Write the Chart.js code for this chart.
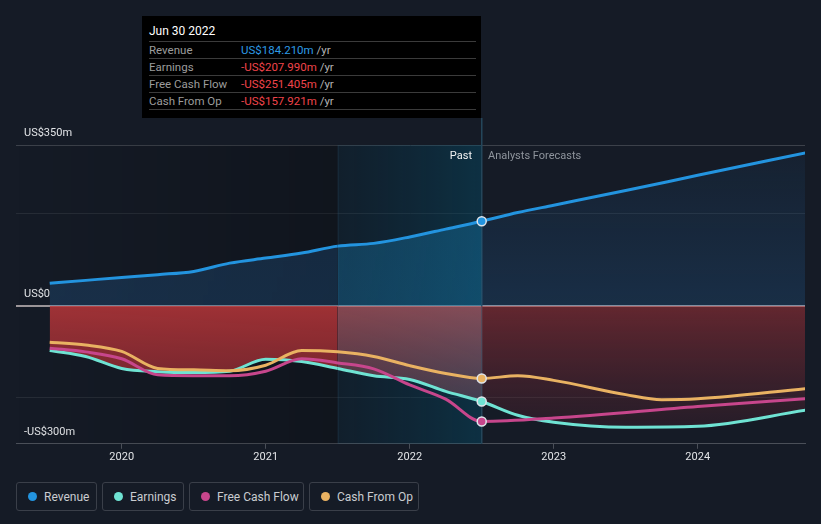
<!DOCTYPE html>
<html>
<head>
<meta charset="utf-8">
<script src="https://cdn.jsdelivr.net/npm/chart.js@4"></script>
<style>
  html, body { margin: 0; padding: 0; background: #151b26; }
  body { width: 821px; height: 524px; position: relative; overflow: hidden; font-family: Roboto, "Noto Sans", sans-serif; }
  #wrap { position: absolute; left: 0; top: 0; width: 821px; height: 470px; }
  #tip { position: absolute; left: 142px; top: 16px; width: 339px; height: 102px; background: #000; box-sizing: border-box; padding: 6px 5px 0 7px; }
  #tip .title { color: #fff; font-size: 12px; height: 19px; line-height: 19px; }
  #tip .row { border-top: 1px solid #3b3b3b; height: 16px; line-height: 16px; font-size: 11.5px; display: flex; }
  #tip .row.last { border-bottom: 1px solid #3b3b3b; }
  #tip .lab { color: #9c9c9c; width: 92px; }
  #tip .yr { color: #b4b4b4; }
  .mark { position: absolute; font-size: 11px; top: 149px; line-height: 14px; }
  #legend { position: absolute; left: 16px; top: 482px; display: flex; gap: 5px; }
  .lg { box-sizing: border-box; height: 29px; border: 1px solid #3a3f49; border-radius: 3px; display: flex; align-items: center; padding-left: 11px; color: #c9ccd0; font-size: 12px; white-space: nowrap; }
  .lg i { display: inline-block; flex: none; width: 9px; height: 9px; border-radius: 50%; margin-right: 7px; }
</style>
</head>
<body>
<div id="wrap"><canvas id="c"></canvas></div>
<div id="tip"></div>
<div class="mark" style="left:420px;width:52px;text-align:right;color:#f2f2f2;">Past</div>
<div class="mark" style="left:488px;color:#8e949c;">Analysts Forecasts</div>
<div id="legend"></div>
<script>
// ---------- data ----------
const seriesNames = ["Revenue", "Earnings", "Free Cash Flow", "Cash From Op"];
const seriesColors = ["#2394df", "#6fe3d3", "#c7468c", "#e9b262"];
const pastX = [2019.5, 2019.75, 2020.0, 2020.25, 2020.5, 2020.75, 2021.0, 2021.25, 2021.5, 2021.75, 2022.0, 2022.25, 2022.5];

const revenueX = pastX.concat([2022.75, 2023.0, 2023.5, 2024.0, 2024.75]);
const revenue  = [49, 55.5, 62, 68, 75, 93, 104, 115, 130, 136, 150, 167, 184.21, 203, 219, 251, 284, 333];

const earningsX = pastX.concat([2022.75, 2023.0, 2023.5, 2024.0, 2024.75]);
const earnings  = [-97, -110, -136, -143, -145, -142, -116, -121, -136, -152, -160, -186, -207.99, -238, -253, -264, -262, -227];

const fcfX = pastX.concat([2023.0, 2024.0, 2024.75]);
const fcf  = [-92, -100, -115, -150, -152, -152, -142, -115, -124, -137, -172, -203, -251.405, -244, -219, -202];

const cfoX = pastX.concat([2022.75, 2023.0, 2023.5, 2023.75, 2024.0, 2024.75]);
const cfo  = [-79, -85, -99, -136, -139, -141, -129, -97, -100, -110, -130, -147, -157.921, -152, -162, -193, -204, -202, -180];

const xTicks = [2020, 2021, 2022, 2023, 2024];
const yTicks = [-300, -200, 0, 200, 350];
const yLabels = {"350": "US$350m", "0": "US$0", "-300": "-US$300m"};
const xMin = 2019.266, xMax = 2024.745;
const highlightX = 2022.5, bandStartX = 2021.5;
const highlightDate = "Jun 30 2022";

// ---------- tooltip & legend (HTML text) ----------
function fmt(v) { return (v < 0 ? "-" : "") + "US$" + Math.abs(v).toFixed(3) + "m"; }
const allVals = [revenue, earnings, fcf, cfo];
const allX = [revenueX, earningsX, fcfX, cfoX];
let tipHtml = '<div class="title">' + highlightDate + '</div>';
seriesNames.forEach((n, i) => {
  const v = allVals[i][allX[i].indexOf(highlightX)];
  const col = v < 0 ? "#f0444b" : "#2d9be6";
  tipHtml += '<div class="row' + (i === 3 ? ' last' : '') + '"><span class="lab">' + n + '</span><span style="color:' + col + '">' + fmt(v) + '</span><span class="yr">&nbsp;/yr</span></div>';
});
document.getElementById("tip").innerHTML = tipHtml;
const lgW = [81, 82, 115, 110];
document.getElementById("legend").innerHTML = seriesNames.map((n, i) =>
  '<div class="lg" style="width:' + lgW[i] + 'px"><i style="background:' + seriesColors[i] + '"></i>' + n + '</div>').join("");

// ---------- helpers ----------
const gradCache = {};
function region(x) { return x >= highlightX ? "f" : (x >= bandStartX ? "b" : "p"); }
function vgrad(chart, key, v0, v1, c0, c1) {
  const y = chart.scales && chart.scales.y;
  if (!y || !chart.chartArea) return c0;
  const p0 = y.getPixelForValue(v0), p1 = y.getPixelForValue(v1);
  const k = key + "|" + p0 + "|" + p1;
  if (!gradCache[k]) {
    const g = chart.ctx.createLinearGradient(0, p0, 0, p1);
    g.addColorStop(0, c0); g.addColorStop(1, c1);
    gradCache[k] = g;
  }
  return gradCache[k];
}
const revFill = {
  p: ["rgba(40,115,185,0.24)", "rgba(40,115,185,0.20)"],
  b: ["rgba(25,130,185,0.34)", "rgba(25,130,185,0.30)"],
  f: ["rgba(40,115,185,0.22)", "rgba(40,115,185,0.07)"]
};
const negFill = {
  p: ["rgba(190,55,58,0.82)", "rgba(150,40,48,0.55)"],
  b: ["rgba(205,95,102,0.62)", "rgba(150,90,110,0.22)"],
  f: ["rgba(172,50,56,0.52)", "rgba(120,40,55,0.12)"]
};
function toPts(xs, ys) { return xs.map((x, i) => ({x: x, y: ys[i]})); }

const bgPlugin = {
  id: "bg",
  beforeDatasetsDraw(chart) {
    const {ctx, chartArea: a, scales: {x}} = chart;
    const xb = x.getPixelForValue(bandStartX), xh = x.getPixelForValue(highlightX);
    ctx.save();
    let g = ctx.createLinearGradient(a.left, 0, xb, 0);
    g.addColorStop(0, "rgba(0,0,0,0)"); g.addColorStop(1, "rgba(0,0,0,0.22)");
    ctx.fillStyle = g; ctx.fillRect(a.left, a.top, xb - a.left, a.bottom - a.top);
    g = ctx.createLinearGradient(xb, 0, xh, 0);
    g.addColorStop(0, "rgba(0,55,80,0.16)"); g.addColorStop(1, "rgba(0,85,115,0.38)");
    ctx.fillStyle = g; ctx.fillRect(xb, a.top, xh - xb, a.bottom - a.top);
    ctx.fillStyle = "rgba(40,70,90,0.35)"; ctx.fillRect(xb, a.top, 1, a.bottom - a.top);
    ctx.fillStyle = "#24465a"; ctx.fillRect(Math.round(xh) - 1, 118, 1.5, a.bottom - 118);
    ctx.restore();
  }
};

function ds(label, xs, ys, color, order, fillSpec, fillTo) {
  return {
    label: label,
    data: toPts(xs, ys),
    borderColor: color,
    borderWidth: 3,
    cubicInterpolationMode: "monotone",
    order: order,
    fill: fillSpec ? "origin" : false,
    backgroundColor: "rgba(0,0,0,0)",
    segment: fillSpec ? {
      backgroundColor: c => {
        const r = region(c.p0.parsed.x);
        const s = fillSpec[r];
        return vgrad(c.chart, label + r, 0, fillTo, s[0], s[1]);
      }
    } : undefined,
    pointRadius: c => (c.raw && c.raw.x === highlightX ? 4.5 : 0),
    pointBackgroundColor: color,
    pointBorderColor: "#dfe4ea",
    pointBorderWidth: 1.5
  };
}

Chart.defaults.font.family = "Roboto, 'Noto Sans', sans-serif";
new Chart(document.getElementById("c"), {
  type: "line",
  data: {
    datasets: [
      ds("Revenue", revenueX, revenue, seriesColors[0], 1, revFill, 350),
      ds("Cash From Op", cfoX, cfo, seriesColors[3], 2, null),
      ds("Free Cash Flow", fcfX, fcf, seriesColors[2], 3, null),
      ds("Earnings", earningsX, earnings, seriesColors[1], 4, negFill, -300)
    ]
  },
  options: {
    responsive: true,
    maintainAspectRatio: false,
    animation: false,
    events: [],
    layout: { padding: { left: 16, right: 16, top: 145, bottom: 4 } },
    plugins: { legend: { display: false }, tooltip: { enabled: false } },
    scales: {
      x: {
        type: "linear", min: xMin, max: xMax,
        afterBuildTicks: s => { s.ticks = xTicks.map(v => ({value: v})); },
        grid: { drawOnChartArea: false, drawTicks: true, tickLength: 5, color: "#4a4f58" },
        border: { display: true, color: "#4a4f58", width: 1 },
        ticks: { color: "#e2e4e7", font: { size: 11 }, padding: 2, maxRotation: 0, callback: v => String(v) }
      },
      y: {
        min: -300, max: 350,
        afterBuildTicks: s => { s.ticks = yTicks.map(v => ({value: v})); },
        afterFit: s => { s.width = 0; },
        grid: {
          drawTicks: false,
          color: c => c.tick.value === 0 ? "#9c9699" : (c.tick.value === 350 ? "#3c414a" : (c.tick.value === -300 ? "#4a4f58" : "#262c36")),
          lineWidth: c => c.tick.value === 0 ? 2 : 1
        },
        border: { display: false },
        ticks: { mirror: true, padding: 8, labelOffset: -11.5, color: "#e2e4e7", font: { size: 11 }, callback: v => yLabels[String(v)] || "" }
      }
    }
  },
  plugins: [bgPlugin]
});
</script>
</body>
</html>
